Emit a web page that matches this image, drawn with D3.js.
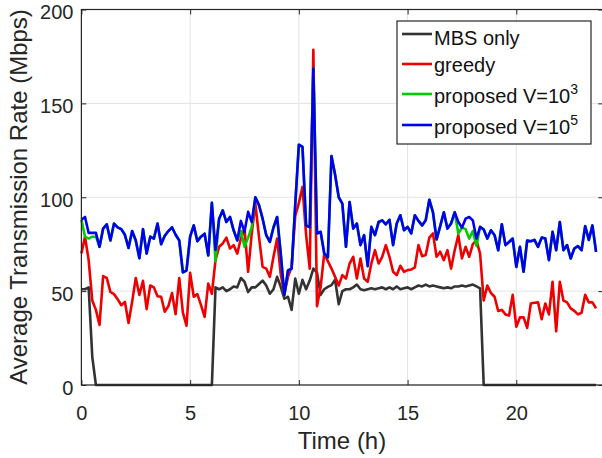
<!DOCTYPE html>
<html><head><meta charset="utf-8">
<script src="https://cdn.jsdelivr.net/npm/d3@7"></script>
<style>
body{margin:0;background:#fff}
svg{display:block;font-family:Arial,"Liberation Sans",Helvetica,sans-serif}
</style>
</head><body>
<svg id="chart" width="602" height="458"></svg>
<script>
const slotsPerHour = 6;
const xTicks = [0, 5, 10, 15, 20];
const yTicks = [0, 50, 100, 150, 200];
const seriesNames = ["MBS only", "greedy", "proposed V=10", "proposed V=10"];
const seriesSup = ["", "", "3", "5"];
const seriesColors = ["#333333", "#ee0000", "#00cc00", "#0000ee"];

const mbsOnly = [
  51, 51, 52, 15,
  0,0,0,0,0,0,0,0,0,0, 0,0,0,0,0,0,0,0,0,0, 0,0,0,0,0,0,0,0,0,0, 0,0,0,
  52, 51, 52, 50, 51, 52.5, 52, 57, 55, 49.5,
  52, 52, 53.8, 55.6, 53, 48.6, 51, 57.6, 52.3, 46,
  47, 40, 56.7, 48.6, 56, 51, 55.6, 62, 60, 48,
  51, 52.3, 53.2, 56,
  43, 50, 51, 51, 52, 53.5, 51, 50.5, 51, 51.5,
  51, 51.5, 52, 51, 52, 51, 52.5, 51, 51.5, 52,
  51, 52, 53, 52.5, 53.5, 52.5, 53, 52.5, 52, 51.5,
  52, 51.5, 52.5, 52.5, 53, 52.5, 53, 53.5, 52.5, 51.5,
  0,0,0,0,0,0,0,0,0,0, 0,0,0,0,0,0,0,0,0,0, 0,0,0,0,0,0,0,0,0,0, 0,0
];
const greedy = [
  70, 79, 66.5, 45, 40, 32, 58, 57, 49.6, 48.4,
  45.7, 42.5, 44.3, 33, 44.3, 57, 48, 55.5, 40.4, 53,
  52, 47.3, 47, 39, 42, 49, 37.7, 57, 38.5, 31.6,
  59.7, 47, 48.4, 42.5, 36.3, 54, 48.6, 66.5, 73.6, 75.4,
  78.5, 72.7, 74.5, 70, 78, 83.3, 60.3, 80.7, 96.6, 78.9,
  62.9, 62, 57.6, 68.3, 78, 59, 48.6, 57.6, 62.9, 90,
  97, 105.5, 80, 62, 178.6, 42, 52, 70, 66, 62,
  57.6, 53, 58.5, 56.7, 64.7, 68.3, 56.7, 67.4, 56.7, 55,
  64.7, 71.8, 64.7, 68.3, 74.5, 68.3, 60.3, 58.5, 63.5, 60.3,
  61.2, 61.5, 62.6, 74.5, 68.6, 69.2, 78.5, 80.7, 68.3, 71,
  66.5, 71.8, 62, 71.8, 79.8, 67.4, 73.6, 68.3, 75, 77,
  70, 45, 53, 49, 47, 39.4, 40, 37.6, 37, 48,
  31, 36, 36, 30.4, 43.4, 43.8, 44, 35, 43.4, 37.6,
  55, 28.6, 55, 45, 44, 40.8, 39.5, 37.6, 38.5, 48,
  44, 44, 40.8
];
const proposedV3 = [
  88, 79, 78, 79, 79, 73.6, 83.3, 85.6, 77, 86,
  84, 83, 80, 73, 82, 77, 67.5, 83, 70, 79,
  78, 86, 75, 79.5, 82, 84, 80, 77, 60, 61,
  79, 85, 76.6, 79, 80.6, 69, 97, 66, 88.6, 93,
  86.8, 89.5, 82.4, 77, 82, 73.6, 78.5, 84, 100, 95.8,
  88.6, 79.8, 76.2, 83.9, 89.5, 70, 47.9, 61, 62, 96,
  128, 126.8, 85, 84, 168.5, 80.7, 81.6, 70, 68, 122,
  112, 100, 96.6, 73.6, 97.5, 83.3, 86, 74.5, 79.8, 63.3,
  84.2, 79.8, 86.8, 87.7, 85.6, 88, 74.5, 86, 90.4, 82.4,
  84.2, 80.7, 90.4, 87.4, 85, 87.7, 98.7, 92, 77.5, 84.6,
  92, 83.3, 86, 92, 80.7, 83.8, 83, 78, 82, 74,
  84.2, 82.8, 78, 82.4, 79.8, 71.8, 85.6, 74.5, 76.2, 78,
  62.9, 73.6, 60.3, 77, 76.6, 77.3, 73.6, 78.5, 78, 66.5,
  81.6, 71.8, 86.8, 71.8, 74.5, 67.4, 72.7, 74, 71.8, 84.6,
  77.3, 85, 70.9
];
const proposedV5 = [
  88, 89.5, 81, 81, 81, 73.6, 83.3, 85.6, 77, 86,
  84, 83, 80, 73, 82, 77, 67.5, 83, 70, 79,
  78, 86, 75, 79.5, 82, 84, 80, 77, 60, 61,
  79, 85, 76.6, 79, 80.6, 69, 97, 72, 88.6, 93,
  86.8, 89.5, 82.4, 77, 87.4, 81.6, 92.2, 86.8, 100, 95.8,
  88.6, 79.8, 76.2, 83.9, 89.5, 70, 47.9, 61, 62, 96,
  128, 126.8, 85, 84, 168.5, 80.7, 81.6, 70, 68, 122,
  112, 100, 96.6, 73.6, 97.5, 83.3, 86, 74.5, 79.8, 63.3,
  84.2, 79.8, 86.8, 87.7, 85.6, 88, 74.5, 86, 90.4, 82.4,
  84.2, 80.7, 90.4, 87.4, 85, 87.7, 98.7, 92, 77.5, 84.6,
  92, 83.3, 86, 92, 86.8, 83.8, 88.6, 89.5, 87.7, 78,
  84.2, 82.8, 78, 82.4, 79.8, 71.8, 85.6, 74.5, 76.2, 78,
  62.9, 73.6, 60.3, 77, 76.6, 77.3, 73.6, 78.5, 78, 66.5,
  81.6, 71.8, 86.8, 71.8, 74.5, 67.4, 72.7, 74, 71.8, 84.6,
  77.3, 85, 70.9
];

const series = [mbsOnly, greedy, proposedV3, proposedV5];

const svg = d3.select("#chart");
const L = 81.4, R = 603.3, T = 9.5, B = 385;
const x = d3.scaleLinear().domain([0, 24]).range([L, R]);
const y = d3.scaleLinear().domain([0, 200]).range([B, T]);
const axisColor = "#262626";

// grid
const grid = svg.append("g");
grid.selectAll(".gx").data(xTicks).join("line")
  .attr("x1", d => x(d)).attr("x2", d => x(d)).attr("y1", T).attr("y2", B)
  .attr("stroke", "#e3e3e3").attr("stroke-width", 1);
grid.selectAll(".gy").data(yTicks).join("line")
  .attr("y1", d => y(d)).attr("y2", d => y(d)).attr("x1", L).attr("x2", R)
  .attr("stroke", "#e3e3e3").attr("stroke-width", 1);

// lines
const line = d3.line().x((d, i) => x(i / slotsPerHour)).y(d => y(d));
series.forEach((s, i) => {
  svg.append("path").datum(s)
    .attr("fill", "none").attr("stroke", seriesColors[i])
    .attr("stroke-width", 2.6).attr("stroke-linejoin", "round")
    .attr("d", line);
});

// axes
function styleAxis(g, hideText) {
  g.select(".domain").remove();
  g.selectAll(".tick line").attr("stroke", axisColor);
  g.selectAll(".tick text").attr("fill", axisColor).attr("font-size", 20);
  if (hideText) g.selectAll(".tick text").remove();
}
svg.append("g").attr("transform", `translate(0,${B})`)
  .call(d3.axisBottom(x).tickValues(xTicks).tickSize(-5).tickPadding(21))
  .call(g => styleAxis(g, false));
svg.append("g").attr("transform", `translate(0,${T})`)
  .call(d3.axisTop(x).tickValues(xTicks).tickSize(-5))
  .call(g => styleAxis(g, true));
svg.append("g").attr("transform", `translate(${L},0)`)
  .call(d3.axisLeft(y).tickValues(yTicks).tickSize(-5).tickPadding(8))
  .call(g => styleAxis(g, false))
  .call(g => g.selectAll(".tick text").attr("dy", "0.45em"));
svg.append("g").attr("transform", `translate(${R},0)`)
  .call(d3.axisRight(y).tickValues(yTicks).tickSize(-5))
  .call(g => styleAxis(g, true));

svg.append("rect").attr("x", L).attr("y", T).attr("width", R - L).attr("height", B - T)
  .attr("fill", "none").attr("stroke", axisColor).attr("stroke-width", 1.2);

// axis labels
svg.append("text").attr("x", 342).attr("y", 449).attr("text-anchor", "middle")
  .attr("font-size", 24).attr("fill", axisColor).text("Time (h)");
svg.append("text").attr("transform", "translate(27,197) rotate(-90)")
  .attr("text-anchor", "middle").attr("font-size", 24).attr("fill", axisColor)
  .text("Average Transmission Rate (Mbps)");

// legend
const lg = svg.append("g");
lg.append("rect").attr("x", 397).attr("y", 21).attr("width", 194).attr("height", 123)
  .attr("fill", "#fff").attr("stroke", axisColor).attr("stroke-width", 1.2);
const lineYs = [34, 64, 94, 125];
const textYs = [45, 72, 103, 134];
seriesNames.forEach((n, i) => {
  lg.append("line").attr("x1", 402).attr("x2", 432).attr("y1", lineYs[i]).attr("y2", lineYs[i])
    .attr("stroke", seriesColors[i]).attr("stroke-width", 2.6);
  const t = lg.append("text").attr("x", 434).attr("y", textYs[i]).attr("font-size", 20)
    .attr("fill", "#111").text(n);
  if (seriesSup[i]) {
    t.append("tspan").attr("dy", -9).attr("font-size", 14).text(seriesSup[i]);
  }
});
</script>
</body></html>
